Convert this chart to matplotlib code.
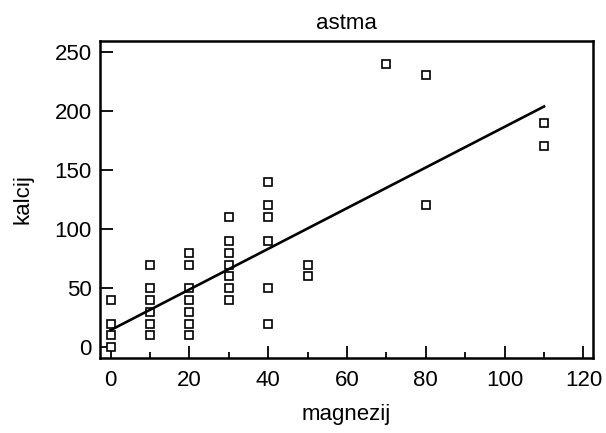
import matplotlib
matplotlib.use("Agg")
import matplotlib.pyplot as plt
import numpy as np
from matplotlib.ticker import MultipleLocator

plt.rcParams['font.family'] = ['Liberation Sans', 'DejaVu Sans']

# magnezij (x) and kalcij (y) values
magnezij = [0, 0, 0, 0,
            10, 10, 10, 10, 10, 10,
            20, 20, 20, 20, 20, 20, 20,
            30, 30, 30, 30, 30, 30, 30,
            40, 40, 40, 40, 40, 40,
            50, 50,
            70,
            80, 80,
            110, 110]
kalcij = [0, 10, 20, 40,
          10, 20, 30, 40, 50, 70,
          10, 20, 30, 40, 50, 70, 80,
          40, 50, 60, 70, 80, 90, 110,
          20, 50, 90, 110, 120, 140,
          60, 70,
          240,
          120, 230,
          170, 190]

# fitted line as shown in the chart
fit_intercept = 14.5
fit_slope = 1.72

fig, ax = plt.subplots(figsize=(6.06, 4.33), dpi=100)
fig.subplots_adjust(left=0.165, right=0.979, top=0.905, bottom=0.174)

ax.plot(magnezij, kalcij, linestyle='none', marker='s', markersize=5.5,
        markerfacecolor='white', markeredgecolor='black', markeredgewidth=1.2)

xl = np.array([min(magnezij), max(magnezij)])
ax.plot(xl, fit_intercept + fit_slope * xl, color='black', linewidth=1.9)

ax.set_xlim(-2.7, 122.5)
ax.set_ylim(-8.8, 259)
ax.xaxis.set_major_locator(MultipleLocator(20))
ax.xaxis.set_minor_locator(MultipleLocator(10))
ax.yaxis.set_major_locator(MultipleLocator(50))

ax.tick_params(which='major', direction='in', length=9, width=1.3, labelsize=16,
               top=False, right=False)
ax.tick_params(axis='x', which='major', pad=9)
ax.tick_params(axis='y', which='major', pad=6)
ax.tick_params(which='minor', direction='in', length=4.5, width=1.3,
               top=False, right=False)
ax.tick_params(axis='y', which='minor', left=False)
for s in ax.spines.values():
    s.set_linewidth(1.8)

ax.set_title('astma', fontsize=16, pad=9)
ax.set_xlabel('magnezij', fontsize=16, labelpad=9)
ax.set_ylabel('kalcij', fontsize=16, labelpad=15)

fig.savefig('out.png', dpi=100)
